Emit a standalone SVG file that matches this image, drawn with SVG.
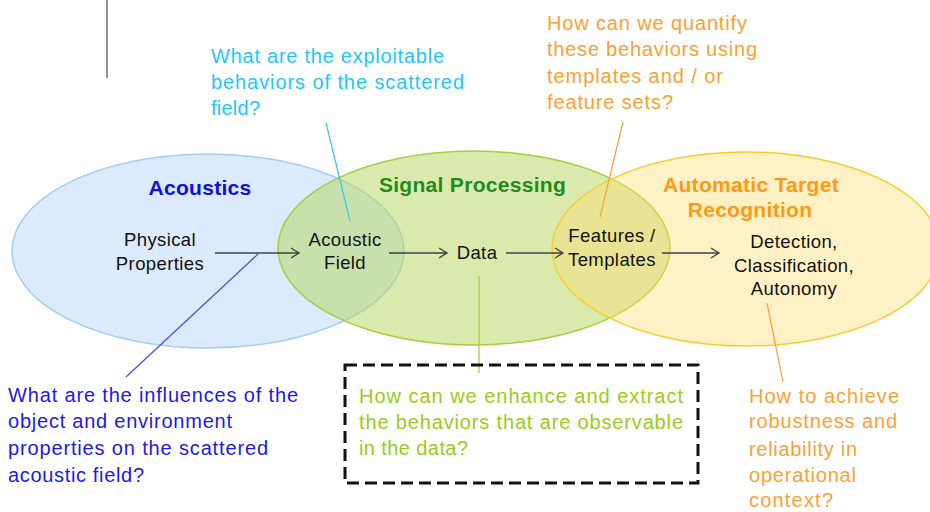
<svg xmlns="http://www.w3.org/2000/svg" width="930" height="512" viewBox="0 0 930 512">
<defs>
<style>
text{font-family:"Liberation Sans",Arial,sans-serif}
.title{font-weight:bold;font-size:21px;text-anchor:middle;letter-spacing:0.3px}
.node{font-size:18.5px;fill:#111;text-anchor:middle;letter-spacing:0.4px}
.q{font-size:20px}
.conn{stroke:#404040;stroke-width:1.4;fill:none}
.callout{stroke-width:1.2;fill:none}
</style>
<marker id="arr" markerWidth="12" markerHeight="12" refX="9" refY="6" orient="auto" markerUnits="userSpaceOnUse">
<path d="M1,1 L9,6 L1,11" fill="none" stroke="#404040" stroke-width="1.4"/>
</marker>
</defs>
<rect width="930" height="512" fill="#fff"/>
<line x1="107" y1="0" x2="107" y2="78" stroke="#555" stroke-width="1.3"/>

<g id="acoustics">
<ellipse cx="208" cy="251" rx="196" ry="97" fill="#dbeafc" stroke="#a3cdf3" stroke-width="1.5"/>
<text class="title" x="200" y="195" fill="#1010d8">Acoustics</text>
</g>
<g id="signal-processing">
<ellipse cx="474" cy="248" rx="196" ry="97" fill="#b6d65a" fill-opacity="0.5" stroke="#a8cc3c" stroke-width="1.5"/>
<text class="title" x="472.5" y="192" fill="#1e8c1e">Signal Processing</text>
</g>
<g id="atr">
<ellipse cx="746" cy="249" rx="194" ry="97" fill="#fcdc6e" fill-opacity="0.4" stroke="#f6cc30" stroke-width="1.5"/>
<text class="title" x="751" y="192" fill="#ff9a10">Automatic Target</text>
<text class="title" x="750" y="217" fill="#ff9a10">Recognition</text>
</g>

<g id="physical-properties">
<text class="node" x="160" y="246">Physical</text>
<text class="node" x="160" y="270">Properties</text>
</g>
<g id="acoustic-field">
<text class="node" x="345" y="246">Acoustic</text>
<text class="node" x="345" y="269">Field</text>
</g>
<g id="data">
<text class="node" x="477" y="259">Data</text>
</g>
<g id="features-templates">
<text class="node" x="612" y="242">Features /</text>
<text class="node" x="612" y="266">Templates</text>
</g>
<g id="detection">
<text class="node" x="794" y="248">Detection,</text>
<text class="node" x="794" y="272">Classification,</text>
<text class="node" x="794" y="295">Autonomy</text>
</g>

<g id="connectors">
<line class="conn" x1="215" y1="253" x2="299" y2="253" marker-end="url(#arr)"/>
<line class="conn" x1="389" y1="253" x2="447" y2="253" marker-end="url(#arr)"/>
<line class="conn" x1="506" y1="253" x2="563" y2="253" marker-end="url(#arr)"/>
<line class="conn" x1="662" y1="253" x2="719" y2="253" marker-end="url(#arr)"/>
<line class="callout" x1="326" y1="123" x2="350" y2="221" stroke="#2ccbf2"/>
<line class="callout" x1="623" y1="122" x2="600" y2="217" stroke="#f7a030"/>
<line class="callout" x1="258" y1="254" x2="126" y2="377" stroke="#4a4ae6"/>
<line class="callout" x1="479" y1="276" x2="479" y2="373" stroke="#99cc33"/>
<line class="callout" x1="767" y1="303" x2="783" y2="382" stroke="#f7a030"/>
</g>

<g id="q-exploitable" fill="#1ec8f5">
<text class="q" x="211" y="63" textLength="233" lengthAdjust="spacing">What are the exploitable</text>
<text class="q" x="211" y="89" textLength="253" lengthAdjust="spacing">behaviors of the scattered</text>
<text class="q" x="211" y="115" textLength="49" lengthAdjust="spacing">field?</text>
</g>
<g id="q-quantify" fill="#fca032">
<text class="q" x="547" y="30" textLength="200" lengthAdjust="spacing">How can we quantify</text>
<text class="q" x="547" y="56" textLength="210" lengthAdjust="spacing">these behaviors using</text>
<text class="q" x="547" y="83" textLength="176" lengthAdjust="spacing">templates and / or</text>
<text class="q" x="547" y="109" textLength="126" lengthAdjust="spacing">feature sets?</text>
</g>
<g id="q-influences" fill="#1a1aee">
<text class="q" x="8" y="402" textLength="290" lengthAdjust="spacing">What are the influences of the</text>
<text class="q" x="8" y="428" textLength="224" lengthAdjust="spacing">object and environment</text>
<text class="q" x="8" y="455" textLength="260" lengthAdjust="spacing">properties on the scattered</text>
<text class="q" x="8" y="482" textLength="136" lengthAdjust="spacing">acoustic field?</text>
</g>
<g id="q-enhance">
<rect x="345" y="365" width="353" height="118" fill="none" stroke="#111" stroke-width="3" stroke-dasharray="12 6"/>
<g fill="#99cc1a">
<text class="q" x="359" y="403" textLength="324" lengthAdjust="spacing">How can we enhance and extract</text>
<text class="q" x="359" y="429" textLength="324" lengthAdjust="spacing">the behaviors that are observable</text>
<text class="q" x="359" y="455" textLength="109" lengthAdjust="spacing">in the data?</text>
</g>
</g>
<g id="q-robustness" fill="#fca032">
<text class="q" x="749" y="403" textLength="150" lengthAdjust="spacing">How to achieve</text>
<text class="q" x="749" y="428" textLength="148" lengthAdjust="spacing">robustness and</text>
<text class="q" x="749" y="456" textLength="108" lengthAdjust="spacing">reliability in</text>
<text class="q" x="749" y="482" textLength="107" lengthAdjust="spacing">operational</text>
<text class="q" x="749" y="507" textLength="84" lengthAdjust="spacing">context?</text>
</g>
</svg>
